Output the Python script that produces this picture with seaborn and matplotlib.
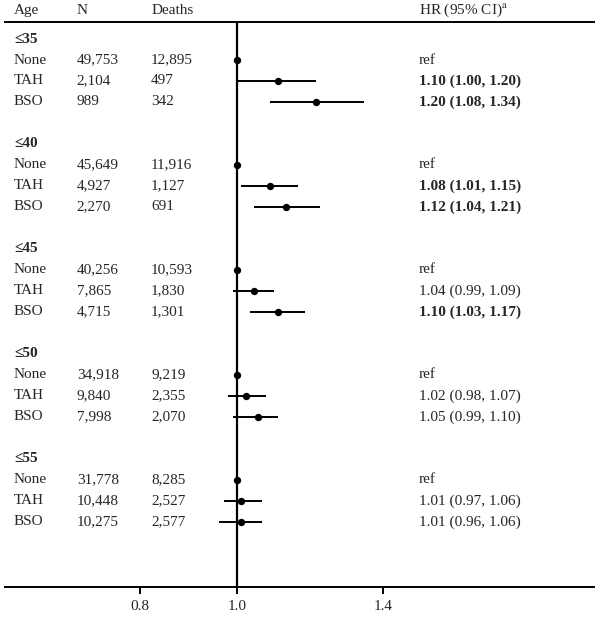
import seaborn as sns
import matplotlib.pyplot as plt
import matplotlib.transforms as mtransforms
import pandas as pd
import numpy as np

groups = ['≤35', '≤40', '≤45', '≤50', '≤55']
cats = ['None', 'TAH', 'BSO']

n_none = ['49,753', '45,649', '40,256', '34,918', '31,778']
n_tah = ['2,104', '4,927', '7,865', '9,840', '10,448']
n_bso = ['989', '2,270', '4,715', '7,998', '10,275']

d_none = ['12,895', '11,916', '10,593', '9,219', '8,285']
d_tah = ['497', '1,127', '1,830', '2,355', '2,527']
d_bso = ['342', '691', '1,301', '2,070', '2,577']

hr_tah = [1.10, 1.08, 1.04, 1.02, 1.01]
lo_tah = [1.00, 1.01, 0.99, 0.98, 0.97]
hi_tah = [1.20, 1.15, 1.09, 1.07, 1.06]

hr_bso = [1.20, 1.12, 1.10, 1.05, 1.01]
lo_bso = [1.08, 1.04, 1.03, 0.99, 0.96]
hi_bso = [1.34, 1.21, 1.17, 1.10, 1.06]

sig_tah = [True, True, False, False, False]
sig_bso = [True, True, True, False, False]

# build long table, one row per line of the plot
rows = []
for g in range(len(groups)):
    base = g * 5
    rows.append(dict(row=base + 1, cat='None', n=n_none[g], d=d_none[g],
                     hr=1.0, lo=np.nan, hi=np.nan, label='ref', bold=False))
    rows.append(dict(row=base + 2, cat='TAH', n=n_tah[g], d=d_tah[g],
                     hr=hr_tah[g], lo=lo_tah[g], hi=hi_tah[g],
                     label=f'{hr_tah[g]:.2f} ({lo_tah[g]:.2f}, {hi_tah[g]:.2f})', bold=sig_tah[g]))
    rows.append(dict(row=base + 3, cat='BSO', n=n_bso[g], d=d_bso[g],
                     hr=hr_bso[g], lo=lo_bso[g], hi=hi_bso[g],
                     label=f'{hr_bso[g]:.2f} ({lo_bso[g]:.2f}, {hi_bso[g]:.2f})', bold=sig_bso[g]))
df = pd.DataFrame(rows)

sns.set_theme(style='white')
plt.rcParams['font.family'] = ['Liberation Serif', 'DejaVu Serif']
plt.rcParams['mathtext.fontset'] = 'stix'

fig = plt.figure(figsize=(6, 6.21), dpi=100)
ax = fig.add_axes([5 / 600, 1 - 587 / 621, 589 / 600, (587 - 22) / 621])

ax.set_xscale('log')
ax.set_xlim(np.exp(-232 / 435), np.exp(357 / 435))
ax.set_ylim(26.1, -0.81)

ax.axvline(1.0, color='black', lw=1.6, zorder=1)

ci = df.dropna(subset=['lo'])
ax.hlines(ci['row'], ci['lo'], ci['hi'], color='black', lw=1.4, zorder=2)
sns.scatterplot(data=df, x='hr', y='row', color='black', s=28, edgecolor='black',
                linewidth=0, zorder=3, ax=ax, legend=False)

trans = mtransforms.blended_transform_factory(ax.transAxes, ax.transData)
fs = 11
for _, r in df.iterrows():
    ax.text(0.0153, r['row'], r['cat'], transform=trans, va='center', fontsize=fs)
    ax.text(0.122, r['row'], r['n'], transform=trans, va='center', fontsize=fs)
    ax.text(0.248, r['row'], r['d'], transform=trans, va='center', fontsize=fs)
    ax.text(0.703, r['row'], r['label'], transform=trans, va='center', fontsize=fs,
            fontweight='bold' if r['bold'] else 'normal')

for g, name in enumerate(groups):
    ax.text(0.0153, g * 5, name, transform=trans, va='center', fontsize=fs,
            fontweight='bold')

hy = -1.38
ax.text(0.0153, hy, 'Age', transform=trans, va='center', fontsize=fs, clip_on=False)
ax.text(0.122, hy, 'N', transform=trans, va='center', fontsize=fs, clip_on=False)
ax.text(0.248, hy, 'Deaths', transform=trans, va='center', fontsize=fs, clip_on=False)
ax.text(0.703, hy, 'HR (95% CI)$^{\\mathrm{a}}$', transform=trans, va='center',
        fontsize=fs, clip_on=False)

ax.xaxis.set_minor_locator(plt.NullLocator())
ax.set_xticks([0.8, 1.0, 1.4])
ax.set_xticklabels(['0.8', '1.0', '1.4'], fontsize=fs)
ax.tick_params(axis='x', bottom=True, length=5, width=1.4, pad=4, color='black')
ax.set_yticks([])
ax.set_xlabel('')
ax.set_ylabel('')

for s in ['left', 'right']:
    ax.spines[s].set_visible(False)
for s in ['top', 'bottom']:
    ax.spines[s].set_visible(True)
    ax.spines[s].set_color('black')
    ax.spines[s].set_linewidth(1.4)

fig.savefig('out.png', dpi=100)
